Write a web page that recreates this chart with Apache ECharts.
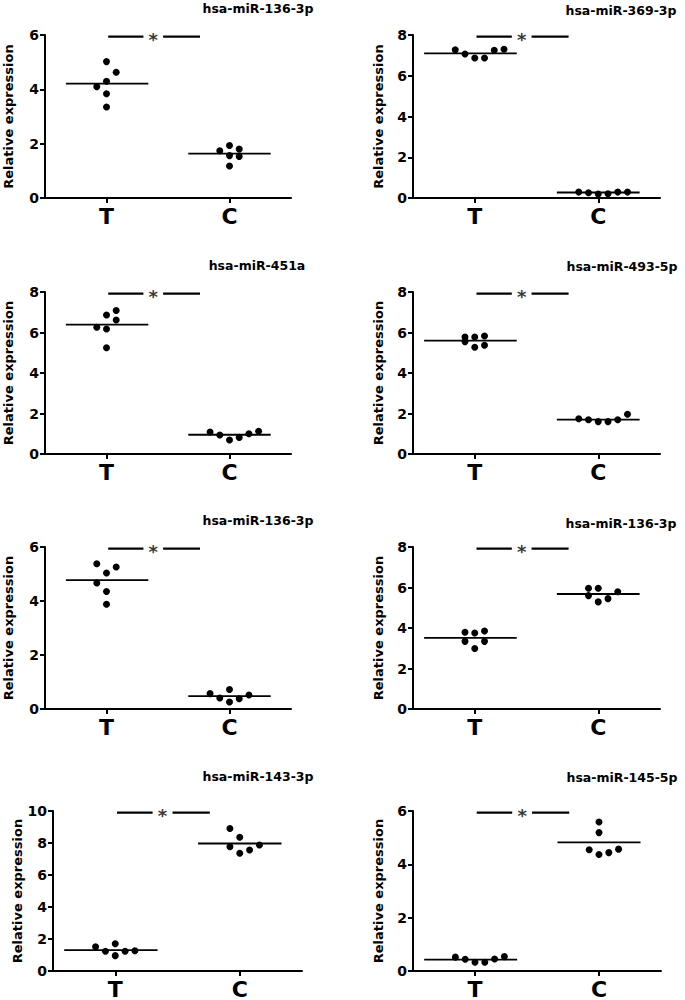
<!DOCTYPE html>
<html>
<head>
<meta charset="utf-8">
<script src="https://cdn.jsdelivr.net/npm/echarts@6/dist/echarts.min.js"></script>
<style>html,body{margin:0;padding:0;background:#fff}#c{width:685px;height:1000px}</style>
</head>
<body>
<div id="c"></div>
<script>
const categories = ['T', 'C'];
const titles = ['hsa-miR-136-3p','hsa-miR-369-3p','hsa-miR-451a','hsa-miR-493-5p','hsa-miR-136-3p','hsa-miR-136-3p','hsa-miR-143-3p','hsa-miR-145-5p'];
const yMaxValues = [6, 8, 8, 8, 6, 8, 10, 6];
const yTickStep = 2;
const significance = ['*','*','*','*','*','*','*','*'];

// values per panel, T group and C group
const tValues = [
  [5.02, 4.63, 4.30, 4.10, 3.84, 3.35],
  [7.27, 7.07, 6.87, 6.87, 7.25, 7.30],
  [6.86, 7.09, 6.62, 6.26, 6.17, 5.25],
  [5.78, 5.78, 5.83, 5.55, 5.27, 5.37],
  [5.38, 5.26, 5.04, 4.67, 4.35, 3.88],
  [3.79, 3.75, 3.85, 3.34, 3.34, 2.99],
  [1.52, 1.70, 1.23, 1.23, 1.27, 0.96],
  [0.52, 0.44, 0.33, 0.33, 0.45, 0.54]
];
const cValues = [
  [1.74, 1.93, 1.80, 1.56, 1.53, 1.18],
  [0.29, 0.26, 0.20, 0.21, 0.29, 0.29],
  [1.09, 0.94, 0.69, 0.82, 1.00, 1.12],
  [1.74, 1.69, 1.60, 1.60, 1.69, 1.96],
  [0.57, 0.41, 0.72, 0.26, 0.38, 0.52],
  [5.96, 5.96, 5.79, 5.60, 5.45, 5.29],
  [8.91, 8.36, 7.77, 7.56, 7.87, 7.36],
  [5.59, 5.19, 4.55, 4.37, 4.44, 4.57]
];
// scatter column slots (beeswarm column index) per point
const tSlots = [
  [0, 1, 0, -1, 0, 0],
  [-2, -1, 0, 1, 2, 3],
  [0, 1, 1, -1, 0, 0],
  [-1, 0, 1, -1, 0, 1],
  [-1, 1, 0, -1, 0, 0],
  [-1, 0, 1, -1, 1, 0],
  [-2, 0, -1, 1, 2, 0],
  [-2, -1, 0, 1, 2, 3]
];
const cSlots = [
  [-1, 0, 1, 0, 1, 0],
  [-2, -1, 0, 1, 2, 3],
  [-2, -1, 0, 1, 2, 3],
  [-2, -1, 0, 1, 2, 3],
  [-2, -1, 0, 0, 1, 2],
  [-1, 0, 2, -1, 1, 0],
  [-1, 0, -1, 1, 2, 0],
  [0, 0, -1, 0, 1, 2]
];
const tMeans = [4.21, 7.10, 6.39, 5.60, 4.77, 3.51, 1.31, 0.43];
const cMeans = [1.63, 0.27, 0.95, 1.70, 0.48, 5.68, 7.97, 4.82];

// ---- layout (positions/styles) ----
const grids = [
  {left: 45, top: 35, width: 246, height: 163},
  {left: 413, top: 35, width: 247, height: 163},
  {left: 45, top: 292, width: 246, height: 162},
  {left: 413, top: 292, width: 247, height: 162},
  {left: 45, top: 547, width: 246, height: 162},
  {left: 413, top: 547, width: 247, height: 162},
  {left: 53, top: 811, width: 249, height: 162},
  {left: 413, top: 811, width: 248, height: 162}
];
const titlePos = [[258, 8.5], [621, 10.5], [257, 265], [622, 266.5], [258, 520], [621, 523.5], [258, 776], [622, 777.5]];
const nameGaps = [30, 28, 30, 28, 30, 28, 28, 28];
const tMeanSpan = [[-0.33, 0.34], [-0.41, 0.34], [-0.33, 0.34], [-0.41, 0.34], [-0.33, 0.34], [-0.41, 0.34], [-0.41, 0.34], [-0.41, 0.34]];
const cMeanSpan = [-0.335, 0.335];
const DOT_STEP = 0.079;
const FONT = 'DejaVu Sans';

const option = {
  animation: false,
  backgroundColor: '#fff',
  grid: [], xAxis: [], yAxis: [], series: [], graphic: []
};

for (let i = 0; i < 8; i++) {
  option.grid.push(Object.assign({containLabel: false}, grids[i]));
  option.xAxis.push({
    gridIndex: i, type: 'value', min: -0.5, max: 1.5,
    axisLine: {show: true, onZero: false, lineStyle: {color: '#000', width: 2}},
    axisTick: {show: true, customValues: [0, 1], length: 5, lineStyle: {color: '#000', width: 2}},
    axisLabel: {show: true, customValues: [0, 1], formatter: v => categories[Math.round(v)],
      fontSize: 22, fontWeight: 'bold', color: '#000', fontFamily: FONT, margin: 7},
    splitLine: {show: false}
  });
  option.yAxis.push({
    gridIndex: i, type: 'value', min: 0, max: yMaxValues[i], interval: yTickStep,
    name: 'Relative expression', nameLocation: 'middle', nameGap: nameGaps[i],
    nameTextStyle: {fontSize: 13, fontWeight: 'bold', color: '#000', fontFamily: FONT},
    axisLine: {show: true, onZero: false, lineStyle: {color: '#000', width: 2}},
    axisTick: {show: true, length: 5, lineStyle: {color: '#000', width: 2}},
    axisLabel: {fontSize: 14, fontWeight: 'bold', color: '#000', fontFamily: FONT, margin: 6},
    splitLine: {show: false}
  });
  const dotStyle = {color: '#000', opacity: 1};
  option.series.push({
    type: 'scatter', xAxisIndex: i, yAxisIndex: i, symbolSize: 7, itemStyle: dotStyle,
    data: tValues[i].map((v, k) => [0 + tSlots[i][k] * DOT_STEP, v])
  });
  option.series.push({
    type: 'scatter', xAxisIndex: i, yAxisIndex: i, symbolSize: 7, itemStyle: dotStyle,
    data: cValues[i].map((v, k) => [1 + cSlots[i][k] * DOT_STEP, v])
  });
  const lineBase = {type: 'line', xAxisIndex: i, yAxisIndex: i, symbol: 'none', clip: false,
    lineStyle: {color: '#000', width: 1.8}};
  option.series.push(Object.assign({}, lineBase, {
    data: [[0 + tMeanSpan[i][0], tMeans[i]], [0 + tMeanSpan[i][1], tMeans[i]]]}));
  option.series.push(Object.assign({}, lineBase, {
    data: [[1 + cMeanSpan[0], cMeans[i]], [1 + cMeanSpan[1], cMeans[i]]]}));
  const barY = yMaxValues[i] * 0.99;
  const barBase = {type: 'line', xAxisIndex: i, yAxisIndex: i, symbol: 'none', clip: false,
    lineStyle: {color: '#000', width: 2.2}};
  option.series.push(Object.assign({}, barBase, {data: [[0.014, barY], [0.30, barY]]}));
  option.series.push(Object.assign({}, barBase, {data: [[0.46, barY], [0.76, barY]]}));
  option.series.push({
    type: 'scatter', xAxisIndex: i, yAxisIndex: i, symbolSize: 1, clip: false,
    itemStyle: {color: 'rgba(0,0,0,0)'},
    label: {show: true, position: 'inside', formatter: significance[i], offset: [0, 3],
      fontSize: 18, fontWeight: 'bold', color: '#000', fontFamily: FONT},
    data: [[0.38, barY]]
  });
  option.graphic.push({
    type: 'text', x: titlePos[i][0], y: titlePos[i][1],
    style: {text: titles[i], align: 'center', verticalAlign: 'middle',
      font: 'bold 12.5px "DejaVu Sans"', fill: '#000'}
  });
}

const chart = echarts.init(document.getElementById('c'), null, {renderer: 'svg'});
chart.setOption(option);
</script>
</body>
</html>
